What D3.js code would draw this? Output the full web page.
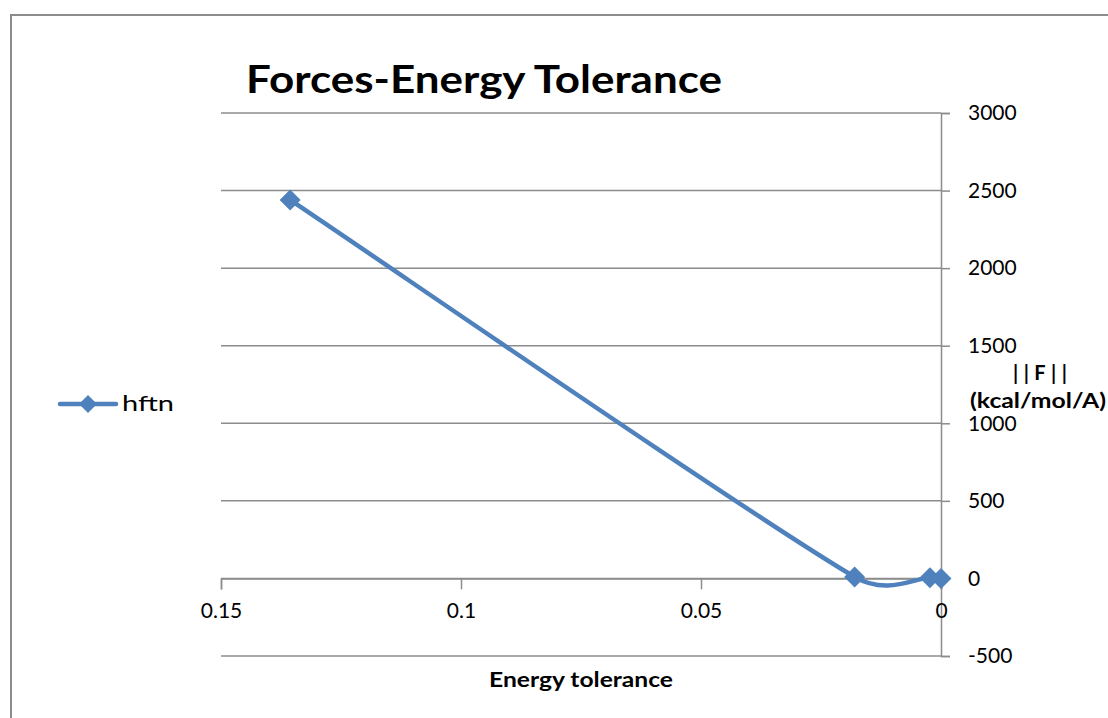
<!DOCTYPE html>
<html>
<head>
<meta charset="utf-8">
<script src="https://cdn.jsdelivr.net/npm/d3@7"></script>
<style>
  html, body { margin: 0; padding: 0; background: #fff; }
  svg { display: block; }
  text { font-family: Lato, "Open Sans", sans-serif; fill: #000; }
</style>
</head>
<body>
<svg id="chart" width="1108" height="718"></svg>
<script>
// Energy tolerance (x) and force norm ||F|| (y) for the hftn run
const energyTol = [0.1356, 0.018, 0.0023, 0];
const forceNorm = [2440, 10, 5, 0];
const seriesName = "hftn";
const xTicks = [0.15, 0.1, 0.05, 0];
const yTicks = [-500, 0, 500, 1000, 1500, 2000, 2500, 3000];

const points = energyTol.map((e, i) => ({ x: e, y: forceNorm[i] }));

const svg = d3.select("#chart");
const blue = "#4F81BD";
const grey = "#8c8c8c";

// Spreadsheet-style smoothing: Bezier handles of 1/6 of the neighbour chord,
// capped at half of the segment length so short segments don't loop.
function curveSmoothLimited(context) {
  let pts;
  return {
    areaStart() {}, areaEnd() {},
    lineStart() { pts = []; },
    point(x, y) { pts.push([+x, +y]); },
    lineEnd() {
      const n = pts.length;
      if (!n) return;
      context.moveTo(pts[0][0], pts[0][1]);
      const dist = (a, b) => Math.hypot(b[0] - a[0], b[1] - a[1]);
      for (let i = 0; i < n - 1; i++) {
        const p0 = pts[Math.max(i - 1, 0)], p1 = pts[i], p2 = pts[i + 1], p3 = pts[Math.min(i + 2, n - 1)];
        const d12 = dist(p1, p2), d02 = dist(p0, p2), d13 = dist(p1, p3);
        let f1 = 1 / 6, f2 = 1 / 6;
        if (d02 / 6 > d12 / 2 && d02 > 0) f1 = d12 / (2 * d02);
        if (d13 / 6 > d12 / 2 && d13 > 0) f2 = d12 / (2 * d13);
        context.bezierCurveTo(
          p1[0] + f1 * (p2[0] - p0[0]), p1[1] + f1 * (p2[1] - p0[1]),
          p2[0] - f2 * (p3[0] - p1[0]), p2[1] - f2 * (p3[1] - p1[1]),
          p2[0], p2[1]);
      }
    }
  };
}

// chart frame
svg.append("rect")
  .attr("x", 11).attr("y", 15)
  .attr("width", 1120).attr("height", 720)
  .attr("fill", "none").attr("stroke", grey).attr("stroke-width", 2);

const x = d3.scaleLinear().domain([0.15, 0]).range([221, 941]);
const y = d3.scaleLinear().domain([-500, 3000]).range([656, 113]);

// horizontal gridlines
svg.append("g").selectAll("line").data(yTicks).join("line")
  .attr("x1", x(0.15)).attr("x2", x(0))
  .attr("y1", d => y(d)).attr("y2", d => y(d))
  .attr("stroke", grey).attr("stroke-width", 1.5);

// value axis on the right
const yAxis = svg.append("g")
  .attr("transform", `translate(${x(0)},0)`)
  .call(d3.axisRight(y).tickValues(yTicks).tickSize(9).tickPadding(18).tickFormat(d => String(d)));
yAxis.select(".domain").attr("stroke", grey).attr("stroke-width", 1.5);
yAxis.selectAll(".tick line").attr("stroke", grey).attr("stroke-width", 1.5);
yAxis.selectAll(".tick text").attr("font-size", 21).attr("font-family", "Lato, sans-serif").attr("fill", "#000");

// category axis crossing at zero
const xAxis = svg.append("g")
  .attr("transform", `translate(0,${y(0)})`)
  .call(d3.axisBottom(x).tickValues(xTicks).tickSize(11).tickPadding(14).tickFormat(d => String(d)));
xAxis.select(".domain").attr("stroke", grey).attr("stroke-width", 1.5);
xAxis.selectAll(".tick line").attr("stroke", grey).attr("stroke-width", 1.5);
xAxis.selectAll(".tick text").attr("font-size", 21).attr("font-family", "Lato, sans-serif").attr("fill", "#000");

// smoothed series line
const line = d3.line()
  .x(d => x(d.x)).y(d => y(d.y))
  .curve(curveSmoothLimited);
svg.append("path")
  .datum(points)
  .attr("d", line)
  .attr("fill", "none")
  .attr("stroke", blue)
  .attr("stroke-width", 4.5)
  .attr("stroke-linecap", "round");

// diamond markers
const s = 10.5;
svg.append("g").selectAll("path").data(points).join("path")
  .attr("transform", d => `translate(${x(d.x)},${y(d.y)})`)
  .attr("d", `M0,${-s}L${s},0L0,${s}L${-s},0Z`)
  .attr("fill", blue);

// title
svg.append("text")
  .attr("x", 484).attr("y", 93)
  .attr("text-anchor", "middle")
  .attr("font-size", 39).attr("font-weight", 700)
  .attr("textLength", 476).attr("lengthAdjust", "spacingAndGlyphs")
  .text("Forces-Energy Tolerance");

// axis titles
svg.append("text")
  .attr("x", 581).attr("y", 687)
  .attr("text-anchor", "middle")
  .attr("font-size", 20).attr("font-weight", 700)
  .attr("textLength", 184).attr("lengthAdjust", "spacingAndGlyphs")
  .text("Energy tolerance");

const yt = svg.append("g").attr("font-size", 20).attr("font-weight", 700);
yt.append("text").attr("x", 1040).attr("y", 380)
  .attr("text-anchor", "middle")
  .attr("textLength", 54).attr("lengthAdjust", "spacing")
  .text("||F||");
yt.append("text").attr("x", 970).attr("y", 408)
  .attr("textLength", 136).attr("lengthAdjust", "spacingAndGlyphs")
  .text("(kcal/mol/A)");

// legend
const lg = svg.append("g");
lg.append("line")
  .attr("x1", 60).attr("x2", 116).attr("y1", 404).attr("y2", 404)
  .attr("stroke", blue).attr("stroke-width", 4.5).attr("stroke-linecap", "round");
lg.append("path")
  .attr("transform", "translate(88,404)")
  .attr("d", "M0,-9L9,0L0,9L-9,0Z")
  .attr("fill", blue);
lg.append("text")
  .attr("x", 122).attr("y", 411)
  .attr("font-size", 21)
  .attr("textLength", 52).attr("lengthAdjust", "spacingAndGlyphs")
  .text(seriesName);
</script>
</body>
</html>
